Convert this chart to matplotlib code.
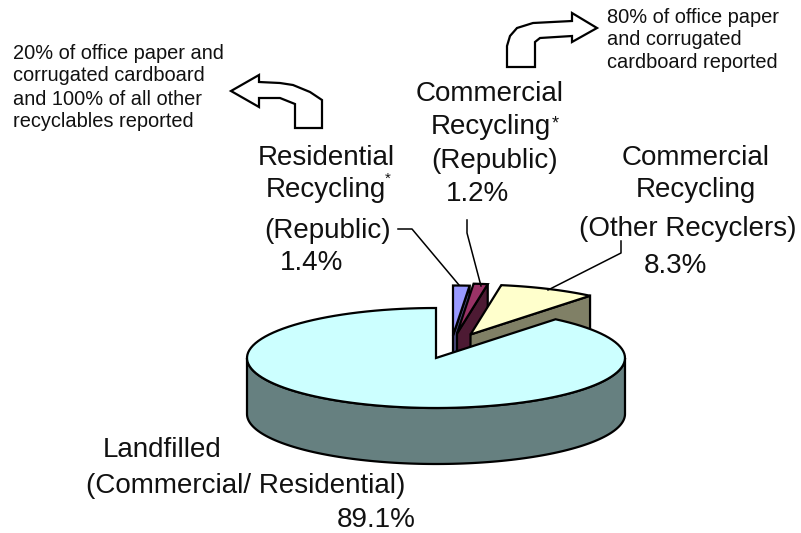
import numpy as np
import matplotlib
matplotlib.use('Agg')
from matplotlib import pyplot as plt
from matplotlib.patches import Polygon

plt.rcParams['font.family'] = ['Liberation Sans', 'DejaVu Sans']

# share of the waste stream, counter-clockwise from 12 o'clock
slice_names = ['Landfilled', 'Commercial Other', 'Commercial Republic', 'Residential Republic']
slice_shares = [89.1, 8.3, 1.2, 1.4]
top_colors = ['#ccffff', '#ffffcc', '#993366', '#9999ff']
side_colors = ['#668080', '#808066', '#4d1a33', '#4d4d80']

# image pixels
center_x, center_y = 436, 358
radius_x, radius_y = 189, 50
depth = 56
explode = [(0, 0), (34.5, -23.5), (21, -24.5), (17, -22.5)]
line_w = 1.6

big = 20
small = 14.4

big_labels = [
    ('Commercial', 490, 101), ('Recycling', 491, 134), ('(Republic)', 495, 168), ('1.2%', 478, 201),
    ('Residential', 326, 165), ('Recycling', 326, 197), ('(Republic)', 328, 238), ('1.4%', 312, 270),
    ('Commercial', 696, 165), ('Recycling', 696, 197), ('(Other Recyclers)', 688, 236), ('8.3%', 675, 273),
    ('Landfilled', 162, 457), ('(Commercial/ Residential)', 246, 493), ('89.1%', 376, 527),
]
small_labels = [
    ('20% of office paper and', 13, 59), ('corrugated cardboard', 13, 81),
    ('and 100% of all other', 13, 105), ('recyclables reported', 13, 127),
    ('80% of office paper', 607, 23), ('and corrugated', 607, 45), ('cardboard reported', 607, 68),
]

leaders = [
    ([398, 412, 459], [229, 229, 285]),
    ([467, 467, 481], [220, 233, 286]),
    ([621, 621, 548], [241, 253, 290]),
]

left_arrow = [(231, 91), (259, 75), (259, 82), (280, 83), (293, 85), (310, 92), (322, 100), (322, 128),
              (295, 128), (295, 104), (280, 98), (259, 98), (259, 107)]
right_arrow = [(597, 28), (572, 13), (572, 21), (533, 23), (517, 28), (510, 36), (507, 46), (507, 67),
               (535, 67), (535, 42), (540, 38), (572, 36), (572, 42)]


def arc(start_deg, end_deg, cx, cy, dy=0):
    angles = np.radians(np.linspace(start_deg, end_deg, 120))
    return np.column_stack([cx + radius_x * np.cos(angles), cy + dy - radius_y * np.sin(angles)])


def draw_slice(ax, start_deg, end_deg, shift, top_color, side_color, zorder):
    cx = center_x + shift[0]
    cy = center_y + shift[1]
    kw = dict(edgecolor='black', linewidth=line_w, joinstyle='miter', zorder=zorder)
    if end_deg - start_deg < 90:
        # the cut face on the clockwise side is the one we can see
        corner = arc(start_deg, start_deg, cx, cy)[0]
        wall = [(cx, cy), tuple(corner), (corner[0], corner[1] + depth), (cx, cy + depth)]
        ax.add_patch(Polygon(wall, facecolor=side_color, **kw))
    else:
        outer = arc(180, 360, cx, cy)
        lower = arc(360, 180, cx, cy, depth)
        ax.add_patch(Polygon(np.vstack([outer, lower]), facecolor=side_color, **kw))
    top = np.vstack([[(cx, cy)], arc(start_deg, end_deg, cx, cy)])
    ax.add_patch(Polygon(top, facecolor=top_color, **kw))


fig = plt.figure(figsize=(8.01, 5.33), dpi=100)
ax = fig.add_axes([0, 0, 1, 1])
ax.set_xlim(0, 801)
ax.set_ylim(533, 0)
ax.axis('off')

# angles in degrees, landfill runs from 90 the long way round
ends = 90 + 360 * np.cumsum(slice_shares) / 100
starts = ends - 360 * np.array(slice_shares) / 100
for i in [3, 2, 1, 0]:
    draw_slice(ax, starts[i], ends[i], explode[i], top_colors[i], side_colors[i], 5 - i)

for xs, ys in leaders:
    ax.plot(xs, ys, color='black', lw=1.1, zorder=6)

for points in [left_arrow, right_arrow]:
    ax.add_patch(Polygon(points, facecolor='white', edgecolor='black', linewidth=line_w,
                         joinstyle='miter', zorder=6))

for text, x, y in big_labels:
    ax.text(x, y, text, fontsize=big, ha='center', va='baseline', color='#111111')
for text, x, y in small_labels:
    ax.text(x, y, text, fontsize=small, ha='left', va='baseline', color='#111111')

# footnote marks
ax.text(388, 183, '*', fontsize=11, ha='center', va='baseline', color='#111111')
ax.text(555, 128, '*', fontsize=13, ha='center', va='baseline', color='#111111')

fig.savefig('out.png', dpi=100)
